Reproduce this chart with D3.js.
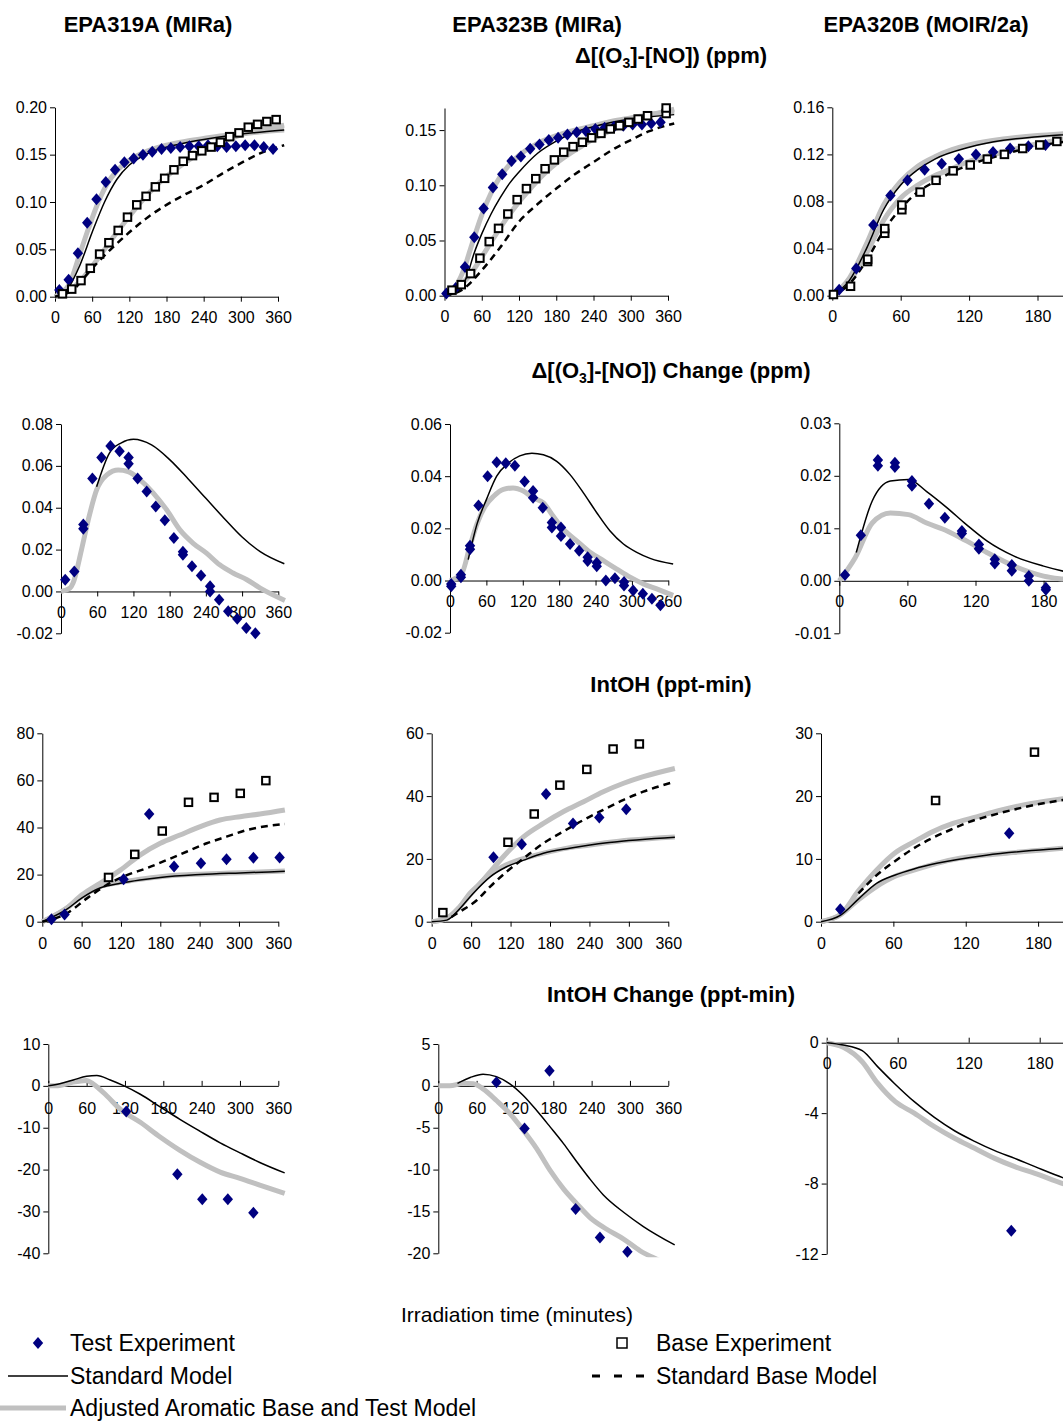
<!DOCTYPE html>
<html>
<head>
<meta charset="utf-8">
<script src="https://cdn.jsdelivr.net/npm/d3@7"></script>
<style>
  body { margin: 0; background: #fff; }
  svg { display: block; font-family: Arial, "Liberation Sans", sans-serif; }
</style>
</head>
<body>
<div id="chart"></div>
<script>
// ---- data (time in minutes, value) ----
const timeTicks = [0, 60, 120, 180, 240, 300, 360];
const columnTitles = ['EPA319A (MIRa)', 'EPA323B (MIRa)', 'EPA320B (MOIR/2a)'];

// row 1 : delta (O3-NO), ppm
const aO3Test = [[7,0.007],[22,0.018],[37,0.046],[52,0.078],[67,0.103],[82,0.121],[97,0.134],[112,0.142],[127,0.146],[142,0.150],[157,0.153],[172,0.156],[187,0.157],[202,0.158],[217,0.159],[232,0.159],[247,0.160],[262,0.159],[277,0.158],[292,0.159],[307,0.160],[322,0.160],[337,0.158],[352,0.156]];
const aO3Base = [[12,0.003],[27,0.008],[42,0.017],[57,0.030],[72,0.045],[87,0.057],[102,0.070],[117,0.084],[132,0.097],[147,0.106],[162,0.116],[177,0.125],[192,0.134],[207,0.143],[222,0.149],[237,0.154],[252,0.158],[267,0.163],[282,0.169],[297,0.173],[312,0.179],[327,0.182],[342,0.185],[357,0.187]];
const aO3AdjTest = [[0,0],[10,0.004],[23,0.013],[40,0.045],[54,0.072],[70,0.100],[85,0.120],[100,0.133],[120,0.144],[150,0.154],[180,0.160],[210,0.164],[240,0.167],[270,0.170],[300,0.172],[330,0.174],[370,0.176]];
const aO3AdjBase = [[0,0],[20,0.005],[40,0.016],[60,0.032],[80,0.050],[100,0.068],[120,0.085],[140,0.101],[160,0.115],[180,0.127],[200,0.137],[220,0.146],[240,0.154],[260,0.160],[280,0.166],[300,0.171],[330,0.176],[370,0.181]];
const aO3Std = [[0,0],[20,0.008],[40,0.033],[60,0.068],[80,0.100],[100,0.124],[120,0.139],[140,0.148],[160,0.154],[200,0.161],[240,0.166],[280,0.170],[320,0.173],[370,0.176]];
const aO3StdBase = [[0,0],[30,0.008],[60,0.030],[90,0.050],[120,0.068],[150,0.084],[180,0.097],[210,0.108],[240,0.118],[270,0.130],[300,0.141],[330,0.151],[370,0.160]];

const bO3Test = [[3,0.002],[18,0.007],[33,0.026],[48,0.053],[63,0.079],[78,0.098],[93,0.110],[108,0.122],[123,0.126],[138,0.133],[153,0.137],[168,0.141],[183,0.143],[198,0.146],[213,0.148],[228,0.149],[243,0.151],[258,0.152],[273,0.153],[288,0.154],[303,0.155],[318,0.155],[333,0.156],[348,0.157]];
const bO3Base = [[12,0.005],[27,0.010],[42,0.020],[57,0.034],[72,0.049],[87,0.061],[102,0.074],[117,0.087],[132,0.097],[147,0.106],[162,0.115],[177,0.123],[192,0.130],[207,0.135],[222,0.139],[237,0.143],[252,0.147],[267,0.151],[282,0.154],[297,0.157],[312,0.160],[327,0.163],[357,0.165],[357,0.170]];
const bO3AdjTest = [[0,0],[15,0.006],[30,0.022],[45,0.048],[60,0.073],[75,0.093],[90,0.108],[105,0.119],[120,0.127],[150,0.138],[180,0.145],[210,0.150],[240,0.154],[270,0.158],[300,0.161],[330,0.164],[370,0.167]];
const bO3AdjBase = [[0,0],[20,0.007],[40,0.018],[60,0.035],[80,0.053],[100,0.070],[120,0.085],[140,0.098],[160,0.110],[180,0.120],[200,0.128],[220,0.135],[240,0.142],[270,0.150],[300,0.157],[330,0.163],[370,0.169]];
const bO3Std = [[0,0],[20,0.004],[35,0.016],[48,0.039],[60,0.056],[75,0.074],[90,0.089],[105,0.102],[120,0.112],[150,0.129],[180,0.140],[210,0.148],[240,0.153],[270,0.157],[300,0.160],[330,0.162],[370,0.164]];
const bO3StdBase = [[0,0],[30,0.006],[60,0.023],[90,0.044],[120,0.067],[150,0.083],[180,0.097],[210,0.110],[240,0.121],[270,0.132],[300,0.141],[330,0.149],[370,0.156]];

const cO3Test = [[6,0.005],[21,0.023],[36,0.060],[51,0.085],[66,0.098],[81,0.107],[96,0.112],[111,0.116],[126,0.120],[141,0.122],[156,0.125],[172,0.127],[187,0.128]];
const cO3Base = [[1,0.001],[16,0.008],[31,0.029],[31,0.031],[46,0.053],[46,0.057],[61,0.073],[61,0.077],[77,0.088],[91,0.098],[106,0.106],[121,0.111],[136,0.116],[151,0.120],[167,0.125],[182,0.128],[197,0.131]];
const cO3AdjTest = [[0,0],[15,0.015],[30,0.044],[45,0.077],[60,0.097],[75,0.110],[90,0.118],[105,0.124],[120,0.128],[150,0.133],[180,0.136],[210,0.138],[240,0.140]];
const cO3AdjBase = [[0,0],[15,0.012],[30,0.036],[45,0.064],[60,0.083],[75,0.094],[90,0.102],[105,0.108],[120,0.114],[150,0.122],[180,0.129],[210,0.134],[240,0.137]];
const cO3Std = [[0,0],[15,0.013],[30,0.040],[45,0.073],[60,0.094],[75,0.107],[90,0.116],[120,0.126],[150,0.132],[180,0.135],[240,0.139]];
const cO3StdBase = [[0,0],[15,0.010],[30,0.030],[45,0.055],[60,0.074],[75,0.088],[90,0.097],[105,0.105],[120,0.111],[150,0.120],[180,0.127],[240,0.134]];

// row 2 : delta (O3-NO) change, ppm
const aChTest = [[7,0.0056],[22,0.0095],[37,0.030],[37,0.032],[52,0.054],[67,0.064],[82,0.0695],[97,0.067],[112,0.064],[112,0.061],[127,0.054],[142,0.0477],[157,0.0406],[172,0.034],[187,0.0255],[202,0.019],[202,0.0175],[217,0.012],[232,0.0076],[247,0.0025],[247,0.0],[262,-0.004],[277,-0.0095],[292,-0.013],[307,-0.0175],[322,-0.020]];
const aChAdj = [[0,0],[15,0.0016],[20,0.004],[34,0.020],[45,0.034],[59,0.0485],[76,0.0557],[95,0.058],[111,0.0573],[131,0.0533],[153,0.047],[175,0.039],[197,0.0294],[219,0.023],[241,0.0183],[263,0.0127],[285,0.0088],[308,0.0056],[330,0.0016],[371,-0.0043]];
const aChStd = [[59,0.050],[80,0.066],[100,0.071],[120,0.0727],[150,0.070],[180,0.063],[210,0.054],[240,0.0445],[270,0.035],[300,0.026],[330,0.019],[370,0.0132]];

const bChTest = [[2,-0.0022],[2,-0.0013],[18,0.0013],[18,0.0022],[33,0.012],[33,0.0133],[47,0.0288],[62,0.040],[77,0.0453],[92,0.045],[107,0.044],[123,0.038],[137,0.0343],[137,0.0317],[153,0.0279],[168,0.0222],[168,0.0203],[183,0.0203],[183,0.0171],[198,0.014],[213,0.0114],[227,0.0089],[227,0.0075],[242,0.0068],[242,0.0055],[257,0.0],[272,0.0009],[287,-0.0006],[287,-0.0019],[302,-0.0038],[318,-0.0051],[333,-0.007],[347,-0.0095]];
const bChAdj = [[0,0],[19,0.0025],[33,0.0133],[45,0.022],[58,0.0285],[72,0.0323],[88,0.0349],[104,0.0355],[121,0.0343],[137,0.0317],[154,0.0298],[170,0.0247],[187,0.0197],[209,0.0152],[231,0.0108],[253,0.0076],[275,0.0044],[297,0.0013],[319,-0.0013],[341,-0.0032],[368,-0.0057]];
const bChStd = [[30,0.008],[45,0.022],[60,0.031],[77,0.040],[96,0.045],[115,0.0478],[135,0.0488],[154,0.0482],[176,0.0457],[198,0.0406],[220,0.0336],[242,0.026],[264,0.019],[286,0.014],[308,0.0108],[330,0.0085],[368,0.0063]];

const cChTest = [[5,0.0011],[19,0.0087],[34,0.0230],[34,0.0219],[49,0.0225],[49,0.0217],[64,0.0190],[64,0.0181],[79,0.0147],[93,0.0120],[108,0.0095],[108,0.0090],[123,0.0069],[123,0.0061],[137,0.0041],[137,0.0033],[152,0.0030],[152,0.0019],[167,0.0009],[167,0.0],[182,-0.0013],[182,-0.0017]];
const cChAdj = [[0,0],[14,0.0044],[29,0.011],[45,0.0129],[61,0.0126],[77,0.011],[95,0.0095],[112,0.0076],[130,0.0054],[154,0.0028],[180,0.0009],[198,0.0003],[240,-0.0005]];
const cChStd = [[15,0.0054],[29,0.0152],[45,0.019],[61,0.0193],[77,0.017],[95,0.0139],[112,0.0107],[130,0.0076],[154,0.0047],[180,0.0028],[198,0.0018],[240,0.0005]];

// row 3 : IntOH, ppt-min
const aOhTest = [[14,1.0],[34,3.1],[124,18.0],[163,45.7],[201,23.4],[242,24.8],[281,26.5],[322,27.2],[362,27.3]];
const aOhBase = [[101,18.8],[141,28.6],[183,38.5],[223,50.7],[262,52.8],[302,54.5],[341,59.9]];
const aOhAdjBase = [[0,0],[37,5.7],[60,11.3],[88,16.3],[119,21.9],[149,28.3],[180,33.3],[210,36.8],[241,40.4],[271,43.2],[302,44.6],[332,45.7],[370,47.4]];
const aOhAdjTest = [[0,0],[37,5.7],[60,10.6],[88,14.9],[119,16.7],[149,18.0],[180,19.1],[210,19.8],[241,20.2],[271,20.5],[302,20.8],[370,21.5]];
const aOhStd = [[0,0],[37,5.2],[60,10.0],[88,14.3],[119,16.3],[149,17.7],[180,18.8],[241,20.0],[302,20.7],[370,21.4]];
const aOhStdBase = [[0,0],[37,3.5],[68,9.9],[98,15.6],[129,19.8],[159,22.7],[190,26.2],[220,29.7],[251,33.3],[281,36.1],[312,38.9],[370,41.5]];

const bOhTest = [[94,20.5],[137,24.7],[174,40.7],[215,31.3],[255,33.2],[296,35.8]];
const bOhBase = [[17,2.9],[116,25.3],[156,34.3],[195,43.5],[236,48.5],[276,55.0],[316,56.6]];
const bOhAdjBase = [[0,0],[23,1.1],[43,4.8],[58,9.0],[74,12.2],[89,15.9],[109,20.7],[140,27.1],[170,31.3],[200,35.0],[231,38.2],[261,41.4],[292,44.1],[322,46.2],[370,48.8]];
const bOhAdjTest = [[0,0],[23,1.1],[43,4.8],[58,8.5],[79,13.3],[99,16.5],[119,18.6],[150,20.7],[180,22.3],[210,23.6],[241,24.4],[271,25.3],[302,26.0],[370,27.0]];
const bOhStd = [[0,0],[23,0.5],[43,4.2],[63,9.0],[89,14.3],[114,17.5],[140,19.6],[170,21.8],[210,23.4],[270,25.2],[370,26.9]];
const bOhStdBase = [[30,1.5],[43,3.2],[69,6.9],[89,11.2],[114,15.9],[140,20.2],[170,25.0],[200,28.7],[231,32.4],[261,35.6],[292,38.8],[322,41.4],[370,44.6]];

const cOhTest = [[16,2.0],[156,14.1]];
const cOhBase = [[95,19.3],[177,27.0]];
const cOhAdjBase = [[0,0],[16,1.1],[31,4.9],[46,8.2],[61,10.9],[77,12.7],[92,14.3],[110,15.7],[129,16.7],[148,17.7],[168,18.6],[201,19.6],[240,20.5]];
const cOhAdjTest = [[0,0],[16,1.1],[31,3.5],[46,5.6],[61,7.2],[77,8.2],[96,9.3],[115,10.1],[137,10.6],[159,11.0],[201,11.7],[240,12.2]];
const cOhStd = [[0,0],[16,1.0],[31,3.6],[46,6.1],[61,7.4],[77,8.4],[96,9.3],[137,10.6],[201,11.7],[240,12.2]];
const cOhStdBase = [[31,4.5],[45,7.2],[61,9.6],[77,11.7],[92,13.3],[107,14.6],[123,15.9],[137,16.7],[170,18.3],[201,19.4],[240,20.3]];

// row 4 : IntOH change, ppt-min
const aDohTest = [[122,-6.1],[202,-21.1],[241,-27.1],[281,-27.1],[321,-30.3]];
const aDohStd = [[0,0],[18,0.5],[39,1.4],[60,2.3],[76,2.5],[97,1.4],[117,0.1],[144,-2.0],[175,-5.0],[206,-8.0],[237,-10.8],[269,-13.6],[300,-16.0],[331,-18.3],[370,-20.8]];
const aDohAdj = [[0,0],[18,0.1],[39,0.9],[60,1.3],[70,0.5],[91,-2.3],[112,-5.5],[144,-8.7],[175,-12.2],[206,-15.4],[237,-18.2],[269,-20.6],[300,-22.1],[331,-23.7],[370,-25.7]];

const bDohTest = [[91,0.44],[135,-5.1],[174,1.8],[215,-14.7],[253,-18.1],[296,-19.8]];
const bDohStd = [[30,0.3],[50,1.0],[70,1.4],[91,1.1],[112,0.24],[133,-1.15],[154,-2.95],[175,-4.9],[196,-6.9],[217,-9.1],[237,-11.1],[258,-13.0],[290,-15.1],[321,-16.8],[370,-19.0]];
const bDohAdj = [[0,0],[18,0],[39,0.3],[55,0.24],[70,-0.36],[91,-1.75],[112,-3.3],[133,-5.3],[154,-7.5],[175,-10.1],[196,-12.3],[217,-14.1],[237,-15.7],[263,-17.1],[290,-18.3],[316,-19.7],[347,-20.9],[370,-21.8]];

const cDohTest = [[156,-10.68]];
const cDohStd = [[0,0],[14,-0.13],[30,-0.45],[43,-1.36],[57,-2.3],[74,-3.35],[91,-4.24],[108,-5.0],[125,-5.6],[142,-6.13],[159,-6.57],[176,-7.04],[201,-7.7],[240,-8.4]];
const cDohAdj = [[0,0],[14,-0.26],[30,-1.08],[43,-2.3],[58,-3.35],[74,-4.0],[91,-4.77],[108,-5.43],[125,-6.0],[142,-6.57],[159,-7.04],[176,-7.42],[201,-8.03],[240,-8.6]];

// ---- layout of the 12 panels (pixel frame) ----
const panels = [
  { x0: 55,    x1: 278,    y0: 296.7,  y1: 107.3,  dom: [0, 0.20],   ticks: [0, 0.05, 0.10, 0.15, 0.20], dec: 2, pad: 10,
    adj: [aO3AdjBase, aO3AdjTest], std: aO3Std, stdBase: aO3StdBase, test: aO3Test, base: aO3Base },
  { x0: 444.5, x1: 668,    y0: 295.7,  y1: 108,    dom: [0, 0.17],   ticks: [0, 0.05, 0.10, 0.15], dec: 2, pad: 10,
    adj: [bO3AdjBase, bO3AdjTest], std: bO3Std, stdBase: bO3StdBase, test: bO3Test, base: bO3Base },
  { x0: 832.3, x1: 1242.7, y0: 295.7,  y1: 107.3,  dom: [0, 0.16],   ticks: [0, 0.04, 0.08, 0.12, 0.16], dec: 2, pad: 10,
    adj: [cO3AdjBase, cO3AdjTest], std: cO3Std, stdBase: cO3StdBase, test: cO3Test, base: cO3Base },

  { x0: 61,    x1: 278.3,  y0: 633.3,  y1: 424,    dom: [-0.02, 0.08], ticks: [-0.02, 0, 0.02, 0.04, 0.06, 0.08], dec: 2, pad: 10,
    adj: [aChAdj], std: aChStd, test: aChTest },
  { x0: 450,   x1: 668.3,  y0: 632.7,  y1: 424,    dom: [-0.02, 0.06], ticks: [-0.02, 0, 0.02, 0.04, 0.06], dec: 2, pad: 10,
    adj: [bChAdj], std: bChStd, test: bChTest },
  { x0: 839.3, x1: 1247.9, y0: 633.3,  y1: 423.3,  dom: [-0.01, 0.03], ticks: [-0.01, 0, 0.01, 0.02, 0.03], dec: 2, pad: 10,
    adj: [cChAdj], std: cChStd, test: cChTest },

  { x0: 42.3,  x1: 278.3,  y0: 921.7,  y1: 733.3,  dom: [0, 80], ticks: [0, 20, 40, 60, 80], dec: 0, pad: 11,
    adj: [aOhAdjBase, aOhAdjTest], std: aOhStd, stdBase: aOhStdBase, test: aOhTest, base: aOhBase },
  { x0: 431.7, x1: 668.3,  y0: 921.7,  y1: 733.3,  dom: [0, 60], ticks: [0, 20, 40, 60], dec: 0, pad: 11,
    adj: [bOhAdjBase, bOhAdjTest], std: bOhStd, stdBase: bOhStdBase, test: bOhTest, base: bOhBase },
  { x0: 821,   x1: 1255.2, y0: 921.7,  y1: 733.3,  dom: [0, 30], ticks: [0, 10, 20, 30], dec: 0, pad: 11,
    adj: [cOhAdjBase, cOhAdjTest], std: cOhStd, stdBase: cOhStdBase, test: cOhTest, base: cOhBase },

  { x0: 48.3,  x1: 278.3,  y0: 1253.3, y1: 1044,   dom: [-40, 10], ticks: [-40, -30, -20, -10, 0, 10], dec: 0, pad: 17, up: true,
    adj: [aDohAdj], std: aDohStd, test: aDohTest },
  { x0: 438.3, x1: 668.3,  y0: 1253.3, y1: 1044,   dom: [-20, 5], ticks: [-20, -15, -10, -5, 0, 5], dec: 0, pad: 17, up: true,
    adj: [bDohAdj], std: bDohStd, test: bDohTest },
  { x0: 826.7, x1: 1252.7, y0: 1254,   y1: 1042.7, dom: [-12, 0], ticks: [-12, -8, -4, 0], dec: 0, pad: 15, up: true,
    adj: [cDohAdj], std: cDohStd, test: cDohTest }
];

const WIDTH = 1063, HEIGHT = 1423;
const NAVY = '#000080', GREY = '#c0c0c0';
const diamond = 'M0,-6L5.2,0L0,6L-5.2,0Z';

const svg = d3.select('#chart')
              .append('svg')
              .attr('width', WIDTH)
              .attr('height', HEIGHT);

const fmtNum = (dec) => (d) => {
  const s = d.toFixed(dec);
  return s === '-0.00' ? '0.00' : s;
};

panels.forEach((p, i) => {
  const x = d3.scaleLinear().domain([0, 360]).range([p.x0, p.x1]);
  const y = d3.scaleLinear().domain(p.dom).range([p.y0, p.y1]);
  const g = svg.append('g').attr('class', 'panel');

  // clip for model lines
  svg.append('clipPath')
     .attr('id', 'clip' + i)
     .append('rect')
       .attr('x', p.x0 - 4)
       .attr('y', p.y1 - 3)
       .attr('width', x(360) - p.x0 + 12)
       .attr('height', p.y0 - p.y1 + 7);

  // y axis
  const yAxis = g.append('g')
                 .attr('transform', `translate(${p.x0},0)`)
                 .call(d3.axisLeft(y)
                         .tickValues(p.ticks)
                         .tickSizeInner(5)
                         .tickSizeOuter(0)
                         .tickPadding(3)
                         .tickFormat(fmtNum(p.dec)));

  // x axis sits on zero; right column runs off the page, keep only labels that fit
  const xTicks = timeTicks.filter((t) => x(t) + 16 < WIDTH);
  const xAxis = g.append('g')
                 .attr('transform', `translate(0,${y(0)})`)
                 .call(d3.axisBottom(x)
                         .tickValues(xTicks)
                         .tickSizeInner(p.up ? -5 : 5)
                         .tickSizeOuter(0)
                         .tickPadding(p.pad)
                         .tickFormat(d3.format('d')));

  [yAxis, xAxis].forEach((a) => {
    a.attr('font-family', 'Arial, "Liberation Sans", sans-serif')
     .attr('font-size', 16);
    a.selectAll('path, line').attr('stroke', '#000');
    a.selectAll('text').attr('fill', '#000');
  });

  const line = d3.line()
                 .x((d) => x(d[0]))
                 .y((d) => y(d[1]))
                 .curve(d3.curveMonotoneX);

  const lines = g.append('g').attr('clip-path', `url(#clip${i})`);

  p.adj.forEach((s) => {
    lines.append('path')
         .datum(s)
         .attr('d', line)
         .attr('fill', 'none')
         .attr('stroke', GREY)
         .attr('stroke-width', 5);
  });

  if (p.stdBase) {
    lines.append('path')
         .datum(p.stdBase)
         .attr('d', line)
         .attr('fill', 'none')
         .attr('stroke', '#000')
         .attr('stroke-width', 2.5)
         .attr('stroke-dasharray', '7,5');
  }

  lines.append('path')
       .datum(p.std)
       .attr('d', line)
       .attr('fill', 'none')
       .attr('stroke', '#000')
       .attr('stroke-width', 1.5);

  g.selectAll('.test')
   .data(p.test)
   .enter()
   .append('path')
     .attr('class', 'test')
     .attr('d', diamond)
     .attr('transform', (d) => `translate(${x(d[0])},${y(d[1])})`)
     .attr('fill', NAVY);

  if (p.base) {
    g.selectAll('.base')
     .data(p.base)
     .enter()
     .append('rect')
       .attr('class', 'base')
       .attr('x', (d) => x(d[0]) - 3.75)
       .attr('y', (d) => y(d[1]) - 3.75)
       .attr('width', 7.5)
       .attr('height', 7.5)
       .attr('fill', '#fff')
       .attr('stroke', '#000')
       .attr('stroke-width', 2);
  }
});

// column titles
const colCentres = [148, 537, 926];
columnTitles.forEach((t, i) => {
  svg.append('text')
     .attr('x', colCentres[i])
     .attr('y', 32)
     .attr('text-anchor', 'middle')
     .attr('font-size', 22)
     .attr('font-weight', 'bold')
     .text(t);
});

// row titles (with subscript 3)
const rowTitle = (y, parts) => {
  const t = svg.append('text')
               .attr('x', 671)
               .attr('y', y)
               .attr('text-anchor', 'middle')
               .attr('font-size', 22)
               .attr('font-weight', 'bold');
  parts.forEach((p) => {
    const ts = t.append('tspan').text(p.s);
    if (p.sub) ts.attr('font-size', 14).attr('dy', 5);
    if (p.back) ts.attr('dy', -5);
  });
};
rowTitle(63,  [{ s: '\u0394[(O' }, { s: '3', sub: true }, { s: ']-[NO]) (ppm)', back: true }]);
rowTitle(378, [{ s: '\u0394[(O' }, { s: '3', sub: true }, { s: ']-[NO]) Change (ppm)', back: true }]);
rowTitle(692, [{ s: 'IntOH (ppt-min)' }]);
rowTitle(1002, [{ s: 'IntOH Change (ppt-min)' }]);

// x axis title
svg.append('text')
   .attr('x', 517)
   .attr('y', 1322)
   .attr('text-anchor', 'middle')
   .attr('font-size', 21)
   .text('Irradiation time (minutes)');

// legend
const legend = svg.append('g').attr('font-size', 23);
legend.append('path')
      .attr('d', diamond)
      .attr('transform', 'translate(38,1343)')
      .attr('fill', NAVY);
legend.append('text').attr('x', 70).attr('y', 1351).text('Test Experiment');

legend.append('rect')
      .attr('x', 617).attr('y', 1338)
      .attr('width', 10).attr('height', 10)
      .attr('fill', '#fff')
      .attr('stroke', '#000')
      .attr('stroke-width', 1.5);
legend.append('text').attr('x', 656).attr('y', 1351).text('Base Experiment');

legend.append('line')
      .attr('x1', 8).attr('x2', 68)
      .attr('y1', 1376).attr('y2', 1376)
      .attr('stroke', '#000')
      .attr('stroke-width', 1.5);
legend.append('text').attr('x', 70).attr('y', 1384).text('Standard Model');

legend.append('line')
      .attr('x1', 592).attr('x2', 644)
      .attr('y1', 1376).attr('y2', 1376)
      .attr('stroke', '#000')
      .attr('stroke-width', 3)
      .attr('stroke-dasharray', '8,14');
legend.append('text').attr('x', 656).attr('y', 1384).text('Standard Base Model');

legend.append('line')
      .attr('x1', 0).attr('x2', 66)
      .attr('y1', 1408).attr('y2', 1408)
      .attr('stroke', GREY)
      .attr('stroke-width', 5);
legend.append('text').attr('x', 70).attr('y', 1416).text('Adjusted Aromatic Base and Test Model');
</script>
</body>
</html>
